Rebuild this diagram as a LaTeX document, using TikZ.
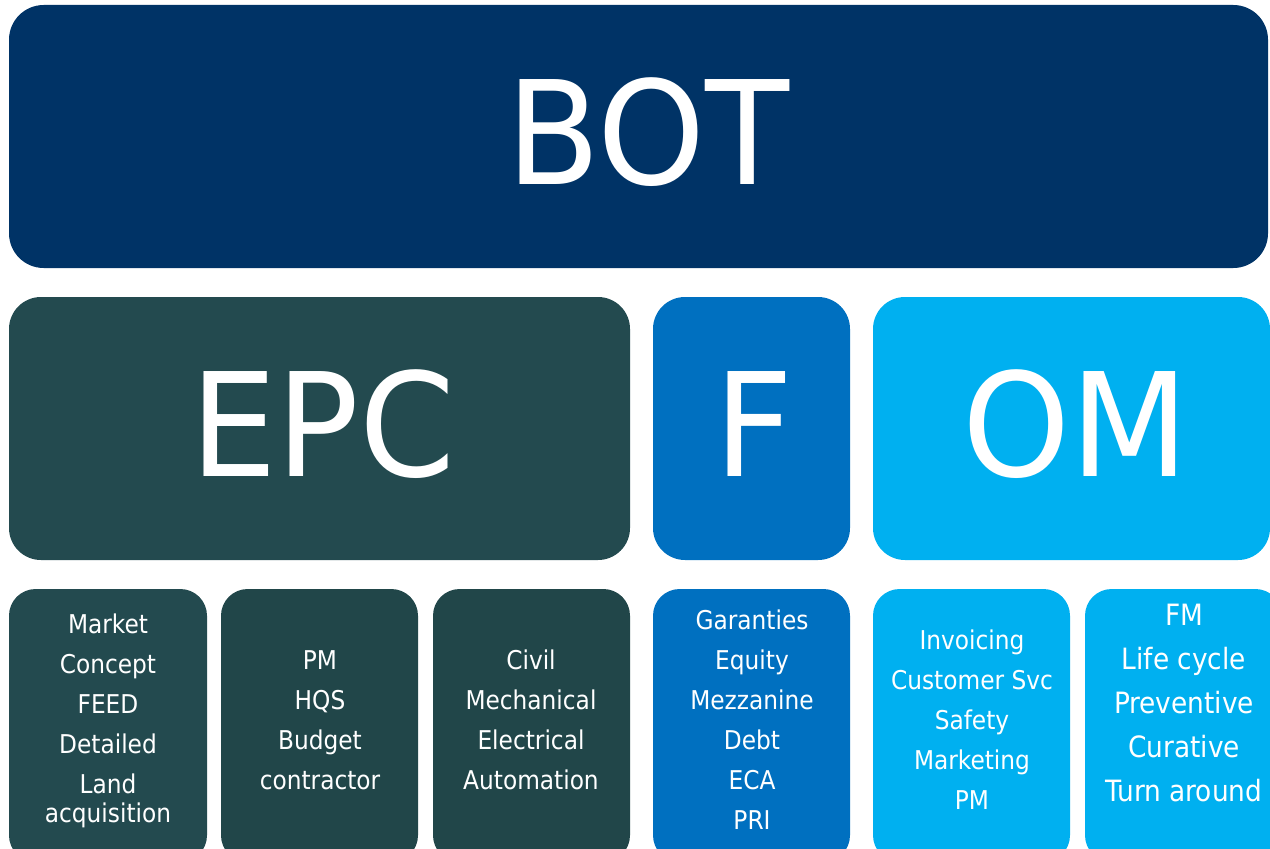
\documentclass[tikz,border=0pt]{standalone}
\usepackage{fontspec}
\setmainfont{DejaVu Sans Condensed}
\definecolor{botc}{RGB}{0,51,102}
\definecolor{epcc}{RGB}{35,74,79}
\definecolor{epcd}{RGB}{33,70,73}
\definecolor{fc}{RGB}{0,112,192}
\definecolor{omc}{RGB}{0,176,240}
\tikzset{
  box/.style={rounded corners=#1, inner sep=0pt, outer sep=0pt},
  bigtxt/.style={text=white, font=\fontsize{108}{110}\selectfont, inner sep=0pt, xscale=1.06, transform shape},
  smalltxt/.style={text=white, align=center, font=\fontsize{19.4}{30}\selectfont, inner sep=0pt},
}
\begin{document}
\begin{tikzpicture}[x=0.75pt,y=-0.75pt]
\useasboundingbox (0,0) rectangle (1270,849);
\clip (0,0) rectangle (1270,849);
% top
\fill[botc, box=26] (9,5) rectangle (1268,268);
\node[bigtxt] (bot) at (648,132) {BOT};
% middle row
\fill[epcc, box=24] (9,297) rectangle (630,560);
\node[bigtxt] (epc) at (323,424) {EPC};
\fill[fc, box=24] (653,297) rectangle (850,560);
\node[bigtxt] (f) at (754,424) {F};
\fill[omc, box=24] (873,297) rectangle (1270,560);
\node[bigtxt] (om) at (1076,424) {OM};
% bottom row
\fill[epcc, box=20] (9,589) rectangle (207,862);
\fill[epcd, box=20] (221,589) rectangle (418,862);
\fill[epcd, box=20] (433,589) rectangle (630,862);
\fill[fc, box=20] (653,589) rectangle (850,862);
\fill[omc, box=20] (873,589) rectangle (1070,862);
\fill[omc, box=20] (1085,589) rectangle (1282,862);
\node[smalltxt] (t1) at (108,721) {Market\\Concept\\FEED\\Detailed\\Land\\[-8pt]acquisition};
\node[smalltxt] (t2) at (320,720) {PM\\HQS\\Budget\\contractor};
\node[smalltxt] (t3) at (531,720) {Civil\\Mechanical\\Electrical\\Automation};
\node[smalltxt] (t4) at (752,720) {Garanties\\Equity\\Mezzanine\\Debt\\ECA\\PRI};
\node[smalltxt] (t5) at (972,720) {Invoicing\\Customer Svc\\Safety\\Marketing\\PM};
\node[smalltxt, font=\fontsize{22}{33}\selectfont] (t6) at (1184,703) {FM\\Life cycle\\Preventive\\Curative\\Turn around};
\end{tikzpicture}
\end{document}
